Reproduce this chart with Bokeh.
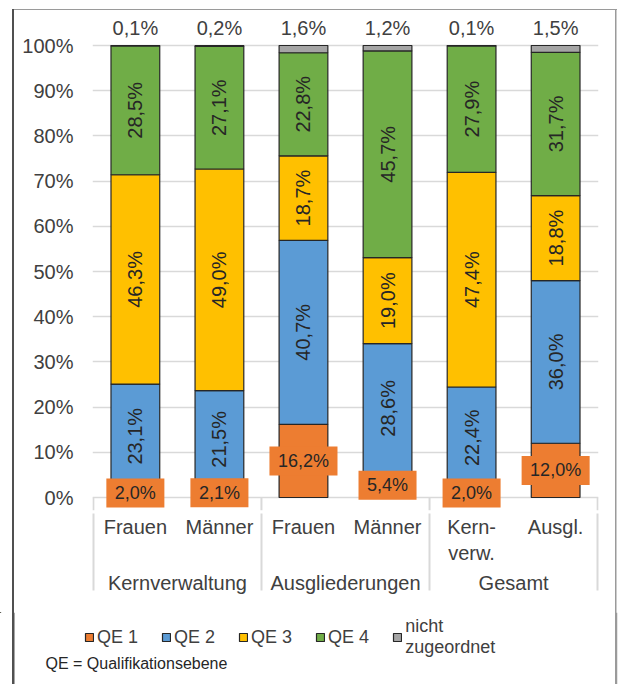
from bokeh.plotting import figure
from bokeh.layouts import column
from bokeh.models import (ColumnDataSource, FactorRange, Range1d, FixedTicker, LabelSet,
                          Legend, LegendItem, Label)
from bokeh.core.properties import value
from bokeh.embed import file_html
from bokeh.resources import INLINE

# ---- data ----
groups = ["Kernverwaltung", "Kernverwaltung", "Ausgliederungen", "Ausgliederungen", "Gesamt", "Gesamt"]
subcats = ["Frauen", "Männer", "Frauen", "Männer", "Kern-\nverw.", "Ausgl."]
qe1 = [2.0, 2.1, 16.2, 5.4, 2.0, 12.0]
qe2 = [23.1, 21.5, 40.7, 28.6, 22.4, 36.0]
qe3 = [46.3, 49.0, 18.7, 19.0, 47.4, 18.8]
qe4 = [28.5, 27.1, 22.8, 45.7, 27.9, 31.7]
nicht = [0.1, 0.2, 1.6, 1.2, 0.1, 1.5]
series_names = ["QE 1", "QE 2", "QE 3", "QE 4", "nicht\nzugeordnet"]
colors = ["#ED7D31", "#5B9BD5", "#FFC000", "#70AD47", "#A5A5A5"]
y_ticks = [0, 10, 20, 30, 40, 50, 60, 70, 80, 90, 100]
y_tick_labels = ["0%", "10%", "20%", "30%", "40%", "50%", "60%", "70%", "80%", "90%", "100%"]
note_text = "QE = Qualifikationsebene"

FONT = "Liberation Sans"
TXT = "#404040"
GRID = "#D9D9D9"

series = [qe1, qe2, qe3, qe4, nicht]
xs = list(zip(groups, subcats))
n = len(xs)
totals = [sum(s[i] for s in series) for i in range(n)]

def fmt(v):
    return f"{v:.1f}%".replace(".", ",")

# approximate Arial advance widths (em) to size the label boxes
CW = {",": 0.278, "%": 0.889}
def text_w(s, size):
    return sum(CW.get(c, 0.556) for c in s) * size

data = dict(x=xs)
for k, s in enumerate(series):
    bots, tops, mids = [], [], []
    for i in range(n):
        b = sum(series[j][i] for j in range(k)) / totals[i] * 100
        t = b + s[i] / totals[i] * 100
        bots.append(b); tops.append(t); mids.append((b + t) / 2)
    data[f"b{k}"] = bots
    data[f"t{k}"] = tops
    data[f"m{k}"] = mids
    data[f"l{k}"] = [fmt(v) for v in s]
data["boxw"] = [text_w(l, 18) + 17 for l in data["l0"]]
src = ColumnDataSource(data)

# invisible padding groups at both ends so that the axis draws separators at the outer edges
pad_l, pad_r = (" ", " "), ("  ", "  ")
factors = [pad_l] + xs + [pad_r]

PX = 4.52            # pixels per percent
Y0 = 497             # pixel row of 0 %
TOP, BOT = 10, 510   # frame rows
y_start = -(BOT - Y0) / PX
y_end = 100 + (Y0 - 100 * PX - TOP) / PX

H1 = 612
H2 = 684 - H1

LEFT_C, EDGE_C = "#505050", "#9A9A9A"
def border_css(top_line):
    imgs = [f"linear-gradient({LEFT_C}, {LEFT_C})", f"linear-gradient({EDGE_C}, {EDGE_C})"]
    sizes = ["2px 100%", "1.5px 100%"]
    pos = ["12px 0px", "615px 0px"]
    if top_line:
        imgs.append(f"linear-gradient({EDGE_C}, {EDGE_C})")
        sizes = ["2px calc(100% - 9px)", "1.5px calc(100% - 9px)", "604px 1px"]
        pos = ["12px 9px", "615px 9px", "13px 9px"]
    return {"background-image": ", ".join(imgs), "background-size": ", ".join(sizes),
            "background-position": ", ".join(pos), "background-repeat": "no-repeat"}

p = figure(x_range=FactorRange(factors=factors, group_padding=0, factor_padding=0,
                               range_padding=-0.99, range_padding_units="absolute"),
           y_range=Range1d(y_start, y_end), width=619, height=H1,
           output_backend="svg", toolbar_location=None,
           min_border_left=92, min_border_right=21, min_border_top=TOP, min_border_bottom=H1 - BOT,
           styles=border_css(True))
p.outline_line_color = None
p.background_fill_color = "white"
p.border_fill_color = None
p.border_fill_alpha = 0
p.xgrid.grid_line_color = None
p.ygrid.grid_line_color = GRID
p.ygrid.grid_line_width = 1.5
for ax in p.axis:
    props = ax.properties()
    if "background_fill_color" in props:
        ax.background_fill_color = None
    if "background_fill_alpha" in props:
        ax.background_fill_alpha = 0

p.yaxis.ticker = FixedTicker(ticks=y_ticks)
p.yaxis.major_label_overrides = {t: l for t, l in zip(y_ticks, y_tick_labels)}
p.yaxis.axis_line_color = None
p.yaxis.major_tick_line_color = None
p.yaxis.major_tick_out = 0
p.yaxis.major_tick_in = 0
p.yaxis.minor_tick_line_color = None
p.yaxis.major_label_standoff = 19
p.yaxis.major_label_text_font = FONT
p.yaxis.major_label_text_font_size = "20px"
p.yaxis.major_label_text_color = TXT

p.xaxis.axis_line_color = None
p.xaxis.major_tick_line_color = None
p.xaxis.major_tick_out = 0
p.xaxis.major_tick_in = 0
p.xaxis.minor_tick_line_color = None
p.xaxis.major_label_standoff = 5
p.xaxis.major_label_text_font = FONT
p.xaxis.major_label_text_font_size = "20px"
p.xaxis.major_label_text_color = TXT
p.xaxis.group_text_font = FONT
p.xaxis.group_text_font_size = "20px"
p.xaxis.group_text_font_style = "normal"
p.xaxis.group_text_color = TXT
p.xaxis.separator_line_color = GRID
p.xaxis.separator_line_width = 2

# short pieces of the group separators between the 0-line and the axis
bounds = [1] + [i + 1 for i in range(1, n) if groups[i] != groups[i - 1]] + [n + 1]
p.segment(x0=bounds, x1=bounds, y0=[y_start] * len(bounds), y1=[0] * len(bounds),
          line_color=GRID, line_width=2)

renderers = []
for k in range(5):
    r = p.vbar(x="x", bottom=f"b{k}", top=f"t{k}", width=0.58, source=src,
               fill_color=colors[k], line_color="#262626", line_width=1.2)
    renderers.append(r)

# QE1 labels on orange boxes
p.rect(x="x", y="m0", width="boxw", height=29, width_units="screen", height_units="screen",
       source=src, fill_color=colors[0], line_color=None)
p.add_layout(LabelSet(x="x", y="m0", text="l0", source=src, text_align="center",
                      text_baseline="middle", text_font=value(FONT), text_font_size="18px",
                      text_color="#262626"))
# rotated labels
for k in (1, 2, 3):
    p.add_layout(LabelSet(x="x", y=f"m{k}", text=f"l{k}", source=src, angle=90, angle_units="deg",
                          text_align="center", text_baseline="middle", text_font=value(FONT),
                          text_font_size="20px", text_color="#262626"))
# top labels (nicht zugeordnet)
p.text(x="x", y="t4", text="l4", source=src, y_offset=-18,
       text_align="center", text_baseline="middle", text_font=value(FONT),
       text_font_size="20px", text_color=TXT)

# ---- lower part: legend and note ----
p2 = figure(width=619, height=H2, x_range=Range1d(0, 619), y_range=Range1d(684, H1),
            output_backend="svg", toolbar_location=None, x_axis_type=None, y_axis_type=None,
            min_border=0, min_border_left=0, min_border_right=0, min_border_top=0, min_border_bottom=0,
            styles=border_css(False))
for fig in (p, p2):
    if "frame_align" in fig.properties():
        fig.frame_align = False
p2.outline_line_color = None
p2.background_fill_alpha = 0
p2.border_fill_alpha = 0
p2.grid.visible = False
# chart border (lower part), drawn inside this frame
p2.segment(x0=[13, 616], x1=[13, 616], y0=[H1, H1], y1=[684, 684],
           line_color=[LEFT_C, EDGE_C], line_width=[2, 1.5])
# legend swatches (placed outside the visible range; only their legend glyphs are shown)
leg_r = [p2.vbar(x=[-50], top=[-50], bottom=[-60], width=1, fill_color=colors[k],
                 line_color="#262626", line_width=1.2) for k in range(5)]
items = [LegendItem(label=series_names[k], renderers=[leg_r[k]]) for k in range(5)]
legend = Legend(items=items, orientation="horizontal", location=(84, 26),
                glyph_width=10, glyph_height=10, label_standoff=3, spacing=23,
                padding=0, margin=0, border_line_color=None, background_fill_alpha=0,
                label_text_font=FONT, label_text_font_size="18px", label_text_color=TXT)
p2.add_layout(legend)
p2.add_layout(Label(x=45, y=663, text=note_text, text_baseline="middle",
                    text_font=FONT, text_font_size="16px", text_color="#262626"))

lay = column(p, p2, spacing=0)

open("out.html", "w").write(file_html(lay, INLINE))
